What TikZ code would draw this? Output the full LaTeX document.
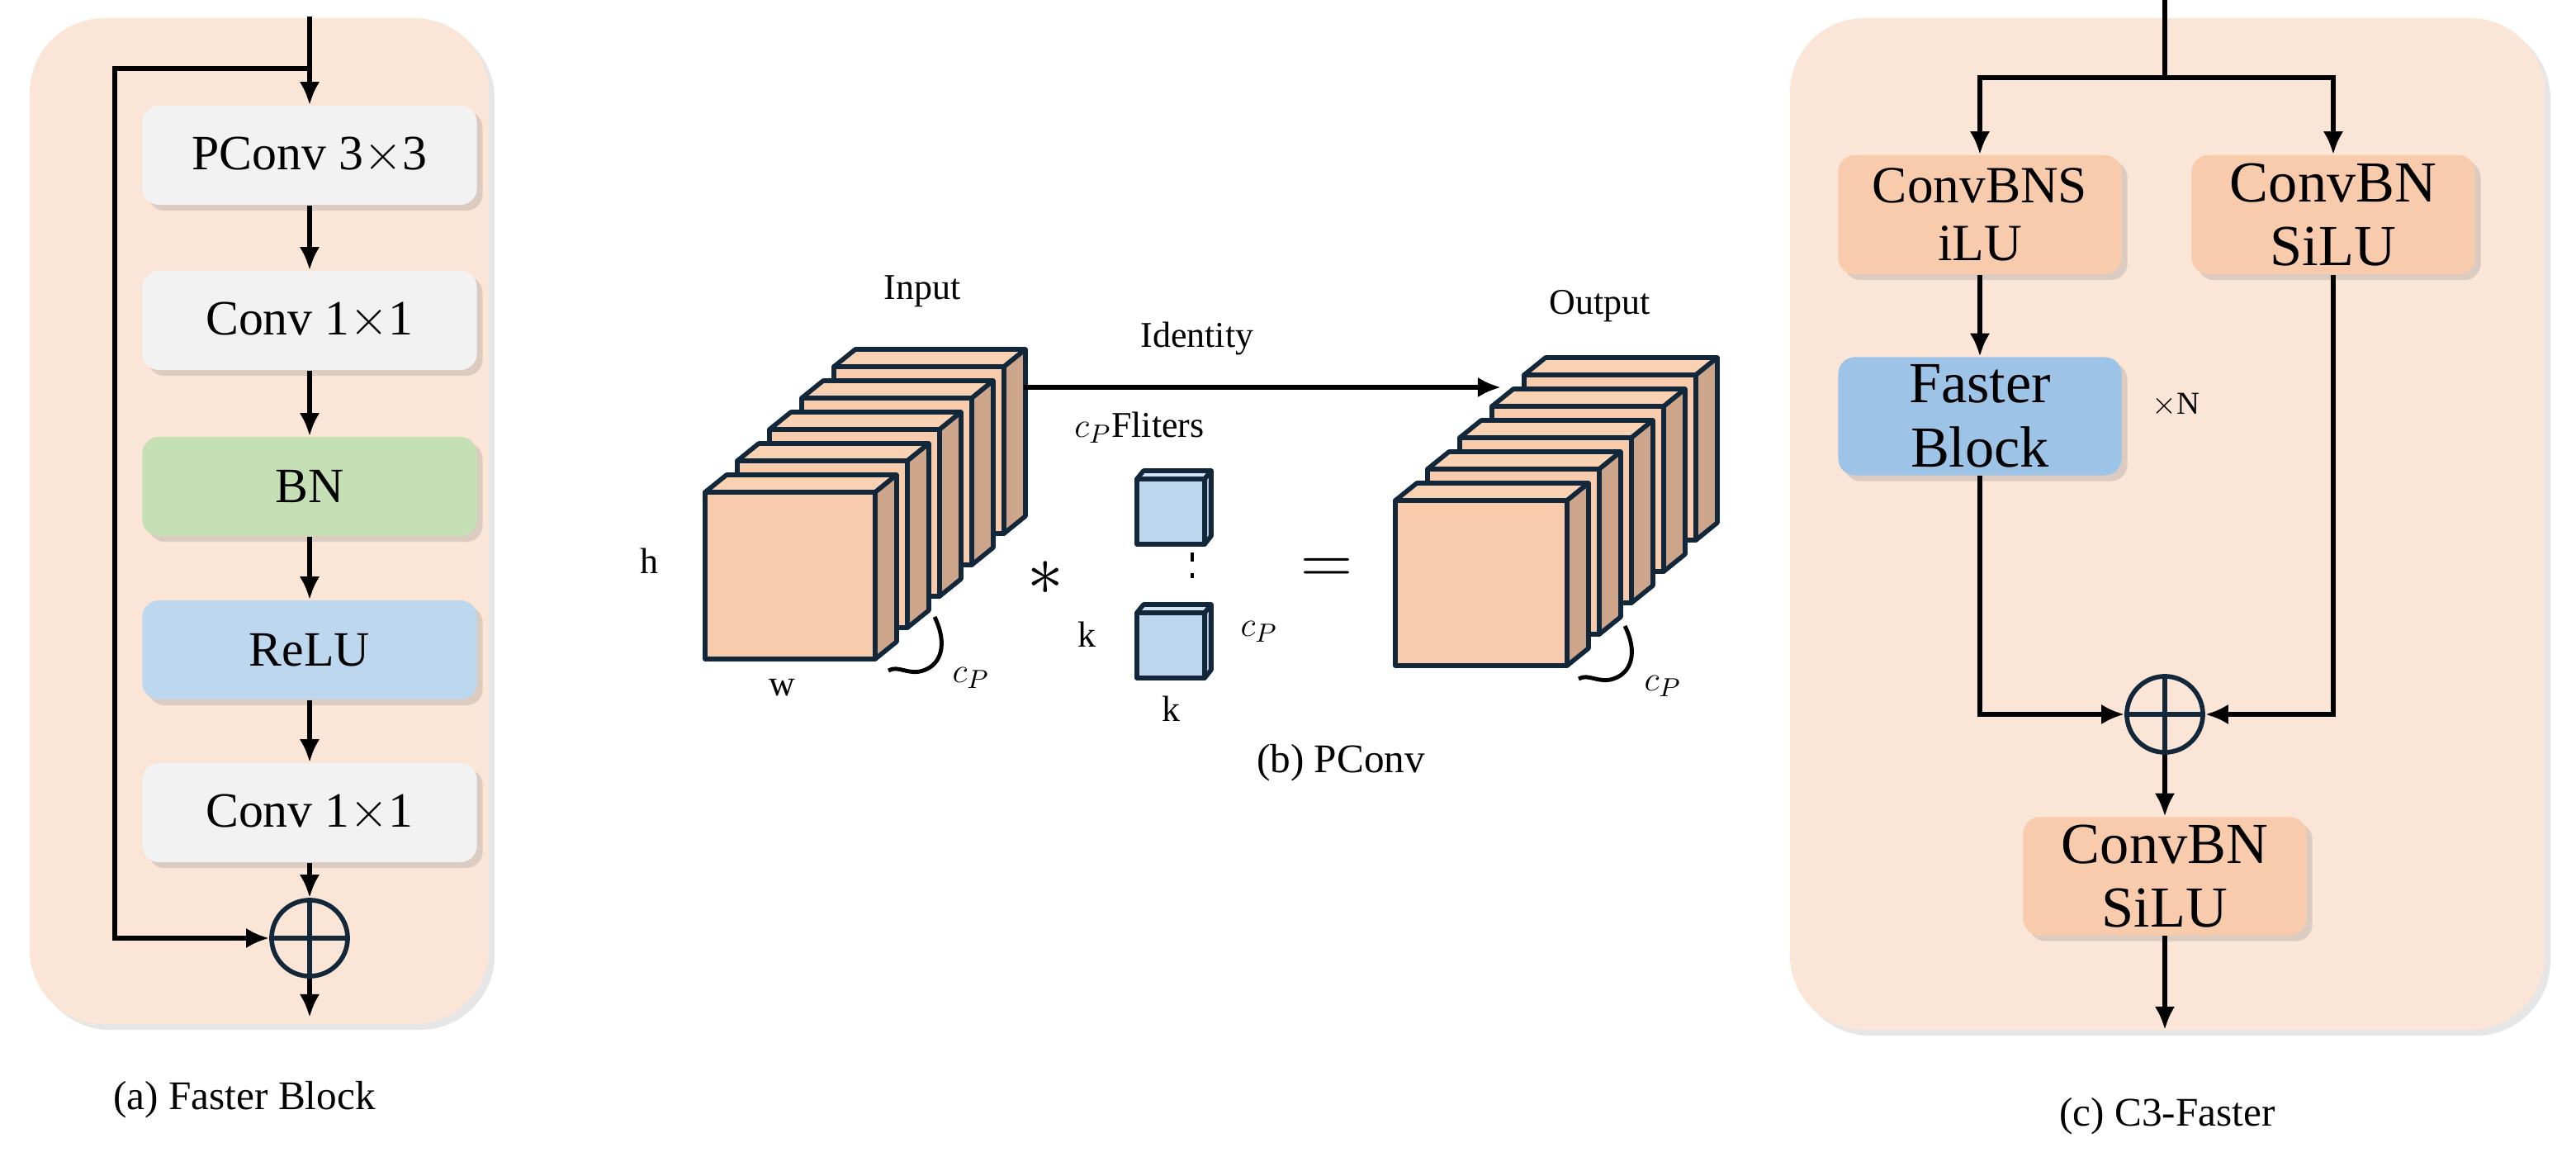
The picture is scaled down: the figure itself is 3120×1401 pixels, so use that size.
\documentclass[tikz,border=0pt]{standalone}
\usepackage{fontspec}
\setmainfont{Liberation Serif}
\usetikzlibrary{arrows.meta,shadows,calc}
\definecolor{panel}{HTML}{FBE5D6}
\definecolor{gbox}{HTML}{F2F2F2}
\definecolor{bnc}{HTML}{C5E0B4}
\definecolor{reluc}{HTML}{BDD7EE}
\definecolor{orb}{HTML}{F8CBAD}
\definecolor{fbc}{HTML}{9DC3E6}
\definecolor{navy}{HTML}{12283A}
\definecolor{slabfront}{HTML}{F8CBAD}
\definecolor{slabtop}{HTML}{F9D2B4}
\definecolor{slabside}{HTML}{CDA58B}
\definecolor{cubef}{HTML}{BDD7EE}
\begin{document}
\begin{tikzpicture}[x=0.01cm,y=-0.01cm,
  box/.style={rectangle,rounded corners=2mm,minimum width=4.05cm,minimum height=1.2cm,font=\fontsize{17}{20}\selectfont,drop shadow={opacity=0.25,shadow xshift=2pt,shadow yshift=-2pt}},
  cbox/.style={rectangle,rounded corners=2mm,fill=orb,minimum width=3.43cm,minimum height=1.44cm,align=center,font=\fontsize{20}{22}\selectfont,inner sep=1pt,drop shadow={opacity=0.25,shadow xshift=2pt,shadow yshift=-2pt}},
  arr/.style={line width=1.8pt,-{Latex[length=8pt,width=7pt]}},
  ln/.style={line width=1.8pt},
  sum/.style={circle,draw=navy,line width=1.6pt,minimum size=0.92cm,inner sep=0pt},
  pan/.style={fill=panel,rounded corners=9mm,drop shadow={opacity=0.2,shadow xshift=2pt,shadow yshift=-2pt}},
  lab/.style={font=\fontsize{14}{16}\selectfont},
  sm/.style={font=\fontsize{12.5}{14}\selectfont},
  edge/.style={draw=navy,line width=1.6pt,line join=round}]
\useasboundingbox (0,0) rectangle (3120,1401);
% ---------- panel (a)
\path[pan] (36,22) rectangle (592,1240);
\node[box,fill=gbox] (p1) at (375,188) {PConv 3$\times$3};
\node[box,fill=gbox] (p2) at (375,388) {Conv 1$\times$1};
\node[box,fill=bnc] (p3) at (375,589) {BN};
\node[box,fill=reluc] (p4) at (375,787) {ReLU};
\node[box,fill=gbox] (p5) at (375,984) {Conv 1$\times$1};
\node[sum] (s1) at (375,1136) {};
\draw[navy,line width=1.6pt] (s1.north)--(s1.south) (s1.west)--(s1.east);
\coordinate (ain) at (375,20);
\coordinate (aout) at (375,1232);
\coordinate (ak) at (139,83);
\draw[arr] (ain) -- (p1);
\draw[arr] (p1) -- (p2);
\draw[arr] (p2) -- (p3);
\draw[arr] (p3) -- (p4);
\draw[arr] (p4) -- (p5);
\draw[arr] (p5) -- (s1);
\draw[arr] (s1) -- (aout);
\draw[arr] (375,83) -- (ak) |- (s1.west);
\node[lab] (la) at (296,1332) {(a) Faster Block};
% ---------- panel (b)
\foreach \i in {4,3,2,1,0}{
  \pgfmathsetmacro\X{854+39*\i}\pgfmathsetmacro\Y{798-38*\i}
  \path[edge,fill=slabtop] (\X,\Y-202) -- (\X+26,\Y-223) -- (\X+232,\Y-223) -- (\X+206,\Y-202) -- cycle;
  \path[edge,fill=slabside] (\X+206,\Y) -- (\X+206,\Y-202) -- (\X+232,\Y-223) -- (\X+232,\Y-21) -- cycle;
  \path[edge,fill=slabfront] (\X,\Y) rectangle (\X+206,\Y-202);
}
\foreach \i in {4,3,2,1,0}{
  \pgfmathsetmacro\X{1690+39*\i}\pgfmathsetmacro\Y{806-38*\i}
  \path[edge,fill=slabtop] (\X,\Y-200) -- (\X+26,\Y-221) -- (\X+234,\Y-221) -- (\X+208,\Y-200) -- cycle;
  \path[edge,fill=slabside] (\X+208,\Y) -- (\X+208,\Y-200) -- (\X+234,\Y-221) -- (\X+234,\Y-21) -- cycle;
  \path[edge,fill=slabfront] (\X,\Y) rectangle (\X+208,\Y-200);
}
% filters
\foreach \Y in {659,821}{
  \path[edge,fill=cubef!70!white] (1377,\Y-79) -- (1385,\Y-89) -- (1467,\Y-89) -- (1459,\Y-79) -- cycle;
  \path[edge,fill=cubef!80!gray] (1459,\Y) -- (1459,\Y-79) -- (1467,\Y-89) -- (1467,\Y-10) -- cycle;
  \path[edge,fill=cubef] (1377,\Y) rectangle (1459,\Y-79);
}
\coordinate (idA) at (1240,469);
\coordinate (idB) at (1818,469);
\draw[arr] (idA) -- (idB);
\node[sm] (tid) at (1450,410) {Identity};
\node[sm] (tin) at (1117,353) {Input};
\node[sm] (tout) at (1938,371) {Output};
\node[sm] (tfl) at (1380,518) {$c_P$Fliters};
\node[font=\fontsize{26}{26}\selectfont] (star) at (1266,700) {$\ast$};
\node[font=\fontsize{30}{30}\selectfont] (eq) at (1607,692) {$=$};
\draw[line width=1.2pt,dash pattern=on 3pt off 4pt] (1444,669) -- (1444,700);
\node[sm] (th) at (786,679) {h};
\node[sm] (tw) at (947,833) {w};
\node[sm] (tk1) at (1316,768) {k};
\node[sm] (tk2) at (1418,858) {k};
\node[sm] (tc1) at (1525,765) {$c_P$};
\node[sm] (tc2) at (1176,821) {$c_P$};
\node[sm] (tc3) at (2014,831) {$c_P$};
\draw[line width=1.4pt] (1132,747) .. controls (1148,780) and (1140,805) .. (1118,812) .. controls (1100,818) and (1088,805) .. (1076,812);
\draw[line width=1.4pt] (1968,758) .. controls (1984,790) and (1976,815) .. (1954,822) .. controls (1936,828) and (1924,815) .. (1912,822);
\node[lab] (lb) at (1624,924) {(b) PConv};
% ---------- panel (c)
\path[pan] (2168,22) rectangle (3082,1247);
\node[cbox,font=\fontsize{18}{20}\selectfont] (c1) at (2398,260) {ConvBNS\\iLU};
\node[cbox] (c2) at (2826,260) {ConvBN\\SiLU};
\node[cbox,fill=fbc,minimum height=1.43cm] (fb) at (2398,504) {Faster\\Block};
\node[font=\fontsize{11}{12}\selectfont] (xn) at (2635,490) {$\times$N};
\node[sum] (s2) at (2622,865) {};
\draw[navy,line width=1.6pt] (s2.north)--(s2.south) (s2.west)--(s2.east);
\node[cbox,minimum height=1.43cm] (c3) at (2622,1061) {ConvBN\\SiLU};
\coordinate (cin) at (2622,0);
\coordinate (cj) at (2622,94);
\coordinate (cout) at (2622,1247);
\draw[ln] (cin) -- (cj);
\draw[arr] (cj) -| (c1.north);
\draw[arr] (cj) -| (c2.north);
\draw[arr] (c1) -- (fb);
\draw[arr] (fb.south) |- (s2.west);
\draw[arr] (c2.south) |- (s2.east);
\draw[arr] (s2) -- (c3);
\draw[arr] (c3) -- (cout);
\node[lab] (lc) at (2625,1352) {(c) C3-Faster};
\end{tikzpicture}
\end{document}
